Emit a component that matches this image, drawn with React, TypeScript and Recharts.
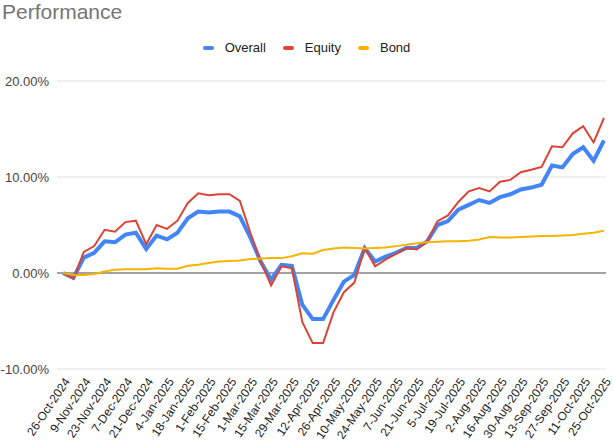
import React from 'react';
import {
  LineChart, Line, XAxis, YAxis, CartesianGrid, ReferenceLine, Legend,
} from 'recharts';

const FONT = 'Arial, "Liberation Sans", sans-serif';

// weekly valuation dates
const dates = [
  '26-Oct-2024', '2-Nov-2024', '9-Nov-2024', '16-Nov-2024', '23-Nov-2024', '30-Nov-2024',
  '7-Dec-2024', '14-Dec-2024', '21-Dec-2024', '28-Dec-2024', '4-Jan-2025', '11-Jan-2025',
  '18-Jan-2025', '25-Jan-2025', '1-Feb-2025', '8-Feb-2025', '15-Feb-2025', '22-Feb-2025',
  '1-Mar-2025', '8-Mar-2025', '15-Mar-2025', '22-Mar-2025', '29-Mar-2025', '5-Apr-2025',
  '12-Apr-2025', '19-Apr-2025', '26-Apr-2025', '3-May-2025', '10-May-2025', '17-May-2025',
  '24-May-2025', '31-May-2025', '7-Jun-2025', '14-Jun-2025', '21-Jun-2025', '28-Jun-2025',
  '5-Jul-2025', '12-Jul-2025', '19-Jul-2025', '26-Jul-2025', '2-Aug-2025', '9-Aug-2025',
  '16-Aug-2025', '23-Aug-2025', '30-Aug-2025', '6-Sep-2025', '13-Sep-2025', '20-Sep-2025',
  '27-Sep-2025', '4-Oct-2025', '11-Oct-2025', '18-Oct-2025', '25-Oct-2025',
];

// cumulative returns, %
const overall = [
  0, -0.5, 1.6, 2.1, 3.3, 3.2, 4.0, 4.2, 2.5, 3.9, 3.5, 4.2, 5.7,
  6.4, 6.3, 6.4, 6.4, 5.9, 3.7, 1.2, -0.7, 0.85, 0.75, -3.3, -4.8, -4.8,
  -2.8, -0.9, -0.2, 2.6, 1.2, 1.7, 2.1, 2.6, 2.6, 3.3, 5.0, 5.4, 6.6,
  7.1, 7.6, 7.3, 7.9, 8.2, 8.7, 8.9, 9.2, 11.2, 11.0, 12.4, 13.1, 11.7, 13.8,
];
const equity = [
  0, -0.6, 2.2, 2.8, 4.5, 4.3, 5.3, 5.45, 3.0, 5.0, 4.6, 5.45, 7.3,
  8.3, 8.1, 8.2, 8.2, 7.5, 4.2, 1.2, -1.3, 0.7, 0.5, -5.1, -7.3, -7.3,
  -4.1, -2.0, -1.0, 2.6, 0.7, 1.4, 2.0, 2.6, 2.45, 3.3, 5.4, 6.0, 7.4,
  8.5, 8.85, 8.5, 9.5, 9.7, 10.5, 10.75, 11.05, 13.2, 13.1, 14.55, 15.3, 13.6, 16.15,
];
const bond = [
  0, -0.2, -0.2, -0.1, 0.15, 0.35, 0.4, 0.4, 0.4, 0.5, 0.45, 0.45, 0.75,
  0.85, 1.05, 1.2, 1.25, 1.3, 1.45, 1.5, 1.55, 1.55, 1.75, 2.05, 2.0, 2.4,
  2.55, 2.65, 2.6, 2.55, 2.6, 2.65, 2.8, 2.95, 3.1, 3.2, 3.25, 3.3, 3.3,
  3.35, 3.5, 3.75, 3.7, 3.7, 3.75, 3.8, 3.85, 3.85, 3.9, 3.95, 4.1, 4.2, 4.4,
];

const yTicks = [-10, 0, 10, 20];

const series = [
  { key: 'overall', name: 'Overall', color: '#4285f4', width: 4 },
  { key: 'equity', name: 'Equity', color: '#db4437', width: 2 },
  { key: 'bond', name: 'Bond', color: '#f4b400', width: 2 },
];

const data = dates.map((d, i) => ({
  date: d,
  overall: overall[i],
  equity: equity[i],
  bond: bond[i],
}));

function DateTick({ x, y, payload }: { x?: number; y?: number; payload?: { value: string } }) {
  return (
    <g transform={`translate(${(x ?? 0) + 4},${(y ?? 0) + 2})`}>
      <text
        textAnchor="end"
        transform="rotate(-56)"
        dy="0.35em"
        fontSize={12}
        fill="#222"
        fontFamily={FONT}
      >
        {payload?.value}
      </text>
    </g>
  );
}

function LegendContent() {
  return (
    <div style={{ display: 'flex', justifyContent: 'center', gap: 17, fontFamily: FONT, fontSize: 13, color: '#222' }}>
      {series.map(s => (
        <div key={s.key} style={{ display: 'flex', alignItems: 'center' }}>
          <span style={{ display: 'inline-block', width: 11, height: 4, borderRadius: 2, background: s.color, marginRight: 11 }} />
          <span>{s.name}</span>
        </div>
      ))}
    </div>
  );
}

export default function App() {
  return (
    <div style={{ position: 'absolute', left: 0, top: 0, width: 613, height: 448, background: '#fff' }}>
      <div style={{ position: 'absolute', left: 2, top: 0, fontFamily: FONT, fontSize: 21, color: '#757575' }}>
        Performance
      </div>
      <LineChart width={613} height={448} data={data} margin={{ top: 81, right: 7, bottom: 0, left: 0 }}>
        <CartesianGrid vertical={false} stroke="#e0e0e0" />
        <XAxis
          dataKey="date"
          interval={1}
          height={79}
          tick={<DateTick />}
          tickLine={false}
          axisLine={false}
          padding={{ left: 6, right: 2 }}
        />
        <YAxis
          domain={[-10, 20]}
          ticks={yTicks}
          width={57}
          tickLine={false}
          axisLine={false}
          tickFormatter={v => `${v.toFixed(2)}%`}
          tick={{ fontSize: 13, fill: '#444', fontFamily: FONT }}
        />
        <ReferenceLine y={0} stroke="#888" strokeWidth={1.5} />
        <Legend
          layout="horizontal"
          verticalAlign="middle"
          align="center"
          content={<LegendContent />}
          wrapperStyle={{ top: 40, left: 0, width: 613 }}
        />
        {series.map(s => (
          <Line
            key={s.key}
            dataKey={s.key}
            name={s.name}
            stroke={s.color}
            strokeWidth={s.width}
            dot={false}
            type="linear"
            isAnimationActive={false}
          />
        ))}
      </LineChart>
    </div>
  );
}
